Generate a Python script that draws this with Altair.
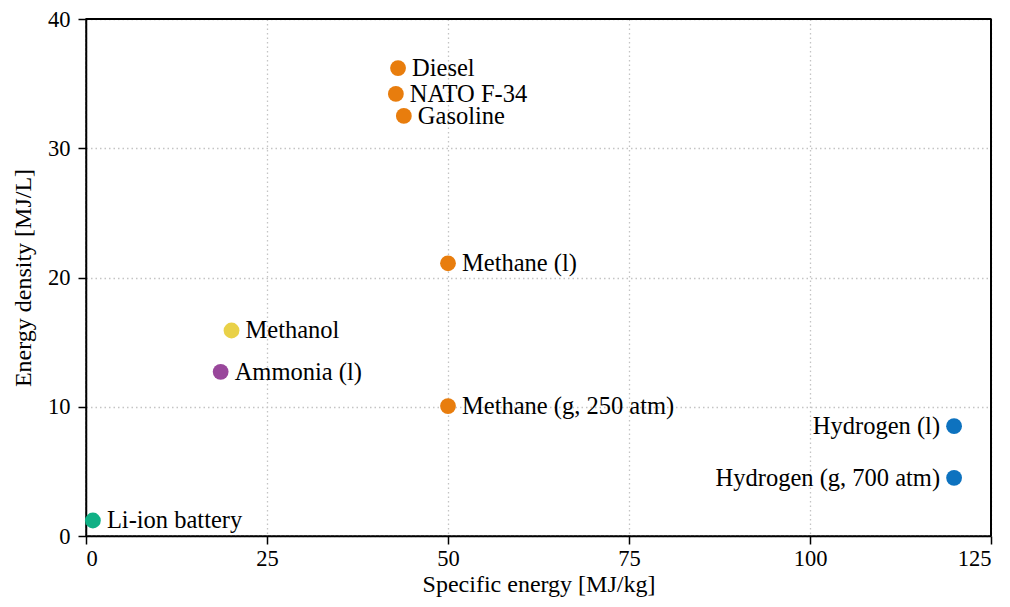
import altair as alt
import pandas as pd

names = ["Diesel", "NATO F-34", "Gasoline", "Methane (l)", "Methanol", "Ammonia (l)",
         "Methane (g, 250 atm)", "Hydrogen (l)", "Hydrogen (g, 700 atm)", "Li-ion battery"]
specific_energy = [43.1, 42.8, 43.9, 50.0, 20.1, 18.6, 50.0, 119.9, 119.9, 0.95]
energy_density = [36.2, 34.2, 32.5, 21.1, 15.9, 12.7, 10.05, 8.5, 4.5, 1.2]
colors = ["#E87D0D", "#E87D0D", "#E87D0D", "#E87D0D", "#E9D148", "#99479B",
          "#E87D0D", "#0D72BF", "#0D72BF", "#10B085"]
label_side = ["right", "right", "right", "right", "right", "right", "right", "left", "left", "right"]

df = pd.DataFrame({
    "name": names,
    "x": specific_energy,
    "y": energy_density,
    "color": colors,
    "side": label_side,
})

FONT = "Liberation Serif"
W, H = 905, 517

x_enc = alt.X("x:Q", title="Specific energy [MJ/kg]",
              scale=alt.Scale(domain=[0, 125], nice=False, zero=False),
              axis=alt.Axis(values=[0, 25, 50, 75, 100, 125], format="d"))
y_enc = alt.Y("y:Q", title="Energy density [MJ/L]",
              scale=alt.Scale(domain=[0, 40], nice=False),
              axis=alt.Axis(values=[0, 10, 20, 30, 40], format="d"))

base = alt.Chart(df)

points = base.mark_circle(size=250, opacity=1).encode(
    x=x_enc, y=y_enc, color=alt.Color("color:N", scale=None)
)

labels_r = base.transform_filter(alt.datum.side == "right").mark_text(
    align="left", baseline="middle", dx=14, dy=1, fontSize=24.5, font=FONT, color="black"
).encode(x="x:Q", y="y:Q", text="name:N")

labels_l = base.transform_filter(alt.datum.side == "left").mark_text(
    align="right", baseline="middle", dx=-14, dy=1, fontSize=24.5, font=FONT, color="black"
).encode(x="x:Q", y="y:Q", text="name:N")

# frame lines on top/right so the dotted grid does not cover them
frame_top = base.mark_rule(color="black", strokeWidth=1.5).encode(
    x=alt.value(0), x2=alt.value(W), y=alt.value(0)
)
frame_right = base.mark_rule(color="black", strokeWidth=1.5).encode(
    x=alt.value(W), y=alt.value(0), y2=alt.value(H)
)

chart = alt.layer(points, labels_r, labels_l, frame_top, frame_right).properties(
    width=W, height=H,
    autosize=alt.AutoSizeParams(type="none"),
    padding={"left": 78, "top": 11, "right": 10, "bottom": 63},
).configure_view(
    stroke="black", strokeWidth=1.5
).configure_axis(
    labelFont=FONT, titleFont=FONT, labelFontSize=22.5, titleFontSize=24,
    labelColor="black", titleColor="black", titleFontWeight="normal",
    domainColor="black", domainWidth=1.5, tickColor="black", tickWidth=1.5, tickSize=8,
    grid=True, gridColor="#c4c4c4", gridDash=[1.5, 3], gridWidth=1.3,
).configure_axisX(
    labelPadding=3, titlePadding=3
).configure_axisY(
    labelPadding=8, titlePadding=12
)

chart.save("out.html", embed_options={"renderer": "svg", "actions": False})
